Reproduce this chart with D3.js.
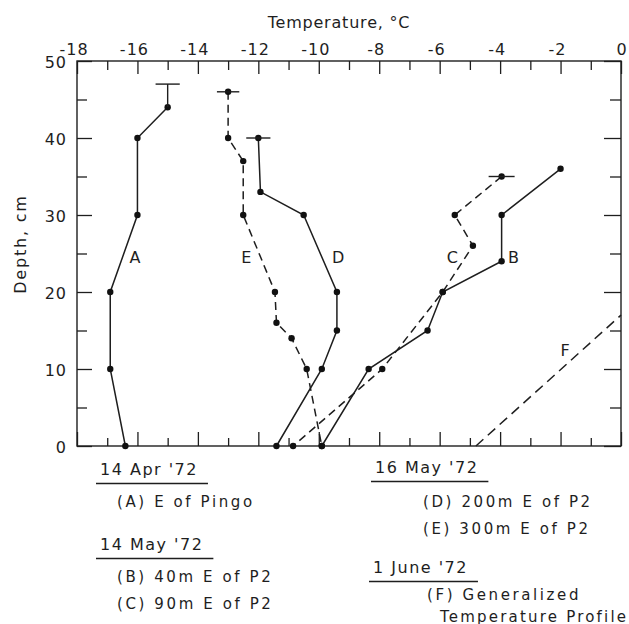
<!DOCTYPE html>
<html>
<head>
<meta charset="utf-8">
<script src="https://cdn.jsdelivr.net/npm/d3@7"></script>
<style>
  body { margin: 0; background: #fff; }
  text { font-family: "DejaVu Sans", sans-serif; fill: #1e1e1e; }
</style>
</head>
<body>
<svg id="chart" width="629" height="624"></svg>
<script>
// ---- data: temperature (°C) vs depth (cm) ----
const tempTickLabels = [-18, -16, -14, -12, -10, -8, -6, -4, -2, 0];
const depthTickLabels = [0, 10, 20, 30, 40, 50];

// each profile point is [temperature, depth]
const profileA = [[-15.0, 44], [-16.0, 40], [-16.0, 30], [-16.9, 20], [-16.9, 10], [-16.4, 0]];
const profileB = [[-2.0, 36], [-3.95, 30], [-3.95, 24], [-5.9, 20], [-6.4, 15], [-8.35, 10], [-9.9, 0]];
const profileC = [[-3.95, 35], [-5.5, 30], [-4.9, 26], [-5.9, 20], [-7.9, 10], [-10.85, 0]];
const profileD = [[-12.0, 40], [-11.93, 33], [-10.5, 30], [-9.4, 20], [-9.4, 15], [-9.9, 10], [-11.4, 0]];
const profileE = [[-13.0, 46], [-13.0, 40], [-12.5, 37], [-12.5, 30], [-11.45, 20], [-11.4, 16], [-10.9, 14], [-10.4, 10], [-9.9, 0]];
const profileF = [[-4.8, 0], [0, 17]];

// range bars: [temperature, depth of bar, half width °C, depth of stem start]
const rangeBars = [[-15.0, 47, 0.4, 44], [-13.0, 46, 0.37, 46], [-12.0, 40, 0.4, 40], [-3.95, 35, 0.43, 35]];

// curve letters: [letter, temperature, depth]
const curveLetters = [["A", -16.08, 24.5], ["B", -3.56, 24.5], ["C", -5.58, 24.5],
                      ["D", -9.36, 24.5], ["E", -12.4, 24.5], ["F", -1.85, 12.4]];

// legend
const legendDates = ["14 Apr '72", "14 May '72", "16 May '72", "1 June '72"];
const legendItems = [["(A) E of Pingo"], ["(B) 40m E of P2", "(C) 90m E of P2"],
                     ["(D) 200m E of P2", "(E) 300m E of P2"], ["(F) Generalized", "Temperature Profile"]];

// ---- drawing ----
const svg = d3.select("#chart");
const x = d3.scaleLinear().domain([-18, 0]).range([77, 621]);
const y = d3.scaleLinear().domain([0, 50]).range([446, 61]);
const ink = "#1e1e1e";

// frame
svg.append("rect")
  .attr("x", x(-18)).attr("y", y(50))
  .attr("width", x(0) - x(-18)).attr("height", y(0) - y(50))
  .attr("fill", "none").attr("stroke", ink).attr("stroke-width", 1.4);

const minorTemps = d3.range(-18, 0.5, 1);
const minorDepths = d3.range(0, 50.5, 5);
const isMajorT = d => Math.round(d) % 2 === 0;
const isMajorD = d => Math.round(d) % 10 === 0;

function styleTicks(g) {
  g.select(".domain").remove();
  g.selectAll(".tick line").attr("stroke", ink).attr("stroke-width", 1.3);
}

// inward ticks on all four sides
svg.append("g").attr("transform", `translate(0,${y(50)})`)
  .call(d3.axisBottom(x).tickValues(minorTemps).tickFormat(""))
  .call(styleTicks)
  .selectAll(".tick line").attr("y2", d => isMajorT(d) ? 13 : 9);
svg.append("g").attr("transform", `translate(0,${y(0)})`)
  .call(d3.axisTop(x).tickValues(minorTemps).tickFormat(""))
  .call(styleTicks)
  .selectAll(".tick line").attr("y2", d => isMajorT(d) ? -14 : -8);
svg.append("g").attr("transform", `translate(${x(-18)},0)`)
  .call(d3.axisRight(y).tickValues(minorDepths).tickFormat(""))
  .call(styleTicks)
  .selectAll(".tick line").attr("x2", d => isMajorD(d) ? 15 : 10);
svg.append("g").attr("transform", `translate(${x(0)},0)`)
  .call(d3.axisLeft(y).tickValues(minorDepths).tickFormat(""))
  .call(styleTicks)
  .selectAll(".tick line").attr("x2", d => isMajorD(d) ? -17 : -11);

// tick labels
const topLabels = svg.append("g").attr("transform", `translate(0,${y(50)})`)
  .call(d3.axisTop(x).tickValues(tempTickLabels).tickSize(0).tickPadding(6)
    .tickFormat(d => d === 0 ? "0" : "-" + Math.abs(d)));
topLabels.select(".domain").remove();
topLabels.attr("font-family", null).attr("font-size", null);
topLabels.selectAll("text").attr("font-size", 16).attr("fill", ink)
  .attr("letter-spacing", 1)
  .attr("dx", d => d < 0 ? "-0.22em" : "0.03em");

const leftLabels = svg.append("g").attr("transform", `translate(${x(-18)},0)`)
  .call(d3.axisLeft(y).tickValues(depthTickLabels).tickSize(0).tickPadding(10));
leftLabels.select(".domain").remove();
leftLabels.attr("font-family", null).attr("font-size", null);
leftLabels.selectAll("text").attr("font-size", 16).attr("fill", ink)
  .attr("letter-spacing", 1).attr("dy", "0.43em");

// axis titles
svg.append("text")
  .attr("x", 339).attr("y", 28)
  .attr("text-anchor", "middle").attr("font-size", 16).attr("letter-spacing", 0.8)
  .text("Temperature, °C");
svg.append("text")
  .attr("transform", "translate(26,244) rotate(-90)")
  .attr("text-anchor", "middle").attr("font-size", 16).attr("letter-spacing", 1.8)
  .text("Depth, cm");

// profiles
const line = d3.line().x(d => x(d[0])).y(d => y(d[1]));
const profiles = [
  { pts: profileA, dash: null },
  { pts: profileB, dash: null },
  { pts: profileC, dash: "8,5" },
  { pts: profileD, dash: null },
  { pts: profileE, dash: "8,5" },
];

profiles.forEach(p => {
  svg.append("path").datum(p.pts)
    .attr("d", line)
    .attr("fill", "none").attr("stroke", ink).attr("stroke-width", 1.5)
    .attr("stroke-dasharray", p.dash);
  svg.append("g").selectAll("circle").data(p.pts).join("circle")
    .attr("cx", d => x(d[0])).attr("cy", d => y(d[1]))
    .attr("r", 3.2).attr("fill", "#111");
});

svg.append("path").datum(profileF)
  .attr("d", line)
  .attr("fill", "none").attr("stroke", ink).attr("stroke-width", 1.5)
  .attr("stroke-dasharray", "10,6");

// range bars
const bars = svg.append("g").attr("stroke", ink).attr("stroke-width", 1.4);
rangeBars.forEach(([t, dep, half, from]) => {
  bars.append("line")
    .attr("x1", x(t - half)).attr("x2", x(t + half))
    .attr("y1", y(dep)).attr("y2", y(dep));
  if (from !== dep) {
    bars.append("line")
      .attr("x1", x(t)).attr("x2", x(t))
      .attr("y1", y(from)).attr("y2", y(dep));
  }
});

// curve letters
svg.append("g").selectAll("text").data(curveLetters).join("text")
  .attr("x", d => x(d[1])).attr("y", d => y(d[2]))
  .attr("dy", "0.36em")
  .attr("text-anchor", "middle").attr("font-size", 16)
  .text(d => d[0]);

// legend: [indent, offset below the date, letter spacing] per line
const legendLayout = [
  { x: 100, y: 475, lines: [[17, 32, 2.6]] },
  { x: 100, y: 550, lines: [[17, 32, 2.6], [17, 58.5, 2.6]] },
  { x: 375, y: 473, lines: [[48, 34, 2.6], [48, 60.5, 2.6]] },
  { x: 373, y: 573, lines: [[54, 27, 2.6], [67, 48.5, 2.2]] },
];
const legend = svg.append("g");
legendDates.forEach((date, i) => {
  const L = legendLayout[i];
  const head = legend.append("text")
    .attr("x", L.x).attr("y", L.y)
    .attr("font-size", 16).attr("letter-spacing", 1.5)
    .text(date);
  const w = head.node().getComputedTextLength();
  legend.append("line")
    .attr("x1", L.x - 4).attr("x2", L.x + w + 10)
    .attr("y1", L.y + 8.5).attr("y2", L.y + 8.5)
    .attr("stroke", ink).attr("stroke-width", 1.5);
  legendItems[i].forEach((item, j) => {
    legend.append("text")
      .attr("x", L.x + L.lines[j][0]).attr("y", L.y + L.lines[j][1])
      .attr("font-size", 15).attr("letter-spacing", L.lines[j][2])
      .text(item);
  });
});
</script>
</body>
</html>
